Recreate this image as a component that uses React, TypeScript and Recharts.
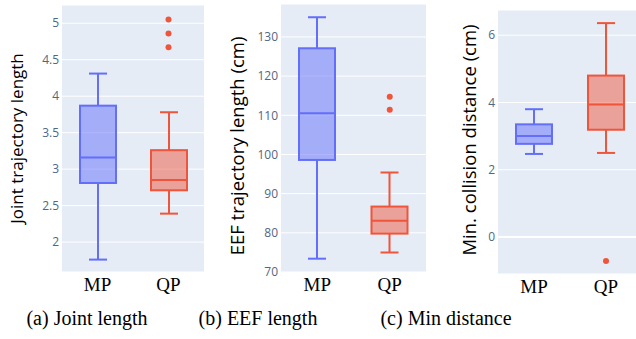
import * as React from "react"
import {
  ComposedChart,
  Bar,
  Scatter,
  XAxis,
  YAxis,
  CartesianGrid,
  ReferenceLine,
} from "recharts"

const CATEGORIES = ["MP", "QP"]

// (a) joint trajectory length
const jointLow = [1.76, 2.39]
const jointQ1 = [2.81, 2.71]
const jointMedian = [3.16, 2.85]
const jointQ3 = [3.87, 3.26]
const jointHigh = [4.31, 3.78]
const jointOutliers = [[], [5.05, 4.86, 4.67]]
const jointTicks = [2, 2.5, 3, 3.5, 4, 4.5, 5]

// (b) EEF trajectory length
const eefLow = [73.4, 75.0]
const eefQ1 = [98.6, 79.8]
const eefMedian = [110.5, 83.1]
const eefQ3 = [127.1, 86.7]
const eefHigh = [135.0, 95.4]
const eefOutliers = [[], [114.7, 111.4]]
const eefTicks = [70, 80, 90, 100, 110, 120, 130]

// (c) min collision distance
const distLow = [2.47, 2.5]
const distQ1 = [2.77, 3.19]
const distMedian = [3.0, 3.94]
const distQ3 = [3.35, 4.8]
const distHigh = [3.8, 6.36]
const distOutliers = [[], [-0.71]]
const distTicks = [0, 2, 4, 6]

const COLORS: Record<string, string> = {
  MP: "#636efa",
  QP: "#ef553b",
}

const PLOT_BG = "#e5ecf6"
const TICK_COLOR = "#506784"

const MAX_OUTLIERS = 3

function buildRows(
  low: number[],
  q1: number[],
  median: number[],
  q3: number[],
  high: number[],
  outliers: number[][]
) {
  return CATEGORIES.map((name, i) => {
    const row: any = {
      name,
      box: [q1[i], q3[i]],
      low: low[i],
      q1: q1[i],
      median: median[i],
      q3: q3[i],
      high: high[i],
    }
    for (let k = 0; k < MAX_OUTLIERS; k++) {
      row[`o${k}`] = outliers[i][k] ?? null
    }
    return row
  })
}

// box + whiskers + median, positions derived from the bar's own scaled range
function BoxShape(props: any) {
  const { x, y, width, height, payload } = props
  if (!payload || !isFinite(y) || !isFinite(height)) return <g />
  const top = Math.min(y, y + height)
  const h = Math.abs(height)
  const span = payload.q3 - payload.q1
  const k = span ? h / span : 0
  const yOf = (v: number) => top + (payload.q3 - v) * k
  const color = COLORS[payload.name]
  const cx = x + width / 2
  const cap = width / 4
  return (
    <g>
      <line x1={cx} x2={cx} y1={yOf(payload.high)} y2={top} stroke={color} strokeWidth={2} />
      <line x1={cx} x2={cx} y1={top + h} y2={yOf(payload.low)} stroke={color} strokeWidth={2} />
      <line x1={cx - cap} x2={cx + cap} y1={yOf(payload.high)} y2={yOf(payload.high)} stroke={color} strokeWidth={2} />
      <line x1={cx - cap} x2={cx + cap} y1={yOf(payload.low)} y2={yOf(payload.low)} stroke={color} strokeWidth={2} />
      <rect x={x} y={top} width={width} height={h} fill={color} fillOpacity={0.5} stroke={color} strokeWidth={2} />
      <line x1={x} x2={x + width} y1={yOf(payload.median)} y2={yOf(payload.median)} stroke={color} strokeWidth={2} />
    </g>
  )
}

function outlierShape(key: string) {
  return (props: any) => {
    const { cx, cy, payload } = props
    if (!payload || payload[key] == null || !isFinite(cy)) return <g />
    return <circle cx={cx} cy={cy} r={3} fill={COLORS[payload.name]} />
  }
}

interface PanelProps {
  rows: any[]
  ticks: number[]
  domain: [number, number]
  title: string
  titleSize: number
  left: number
  width: number
  yAxisWidth: number
  top: number
  xAxisHeight: number
  titleDx: number
  titleDy: number
  zeroLine?: boolean
}

function BoxPanel({
  rows,
  ticks,
  domain,
  title,
  titleSize,
  left,
  width,
  yAxisWidth,
  top,
  xAxisHeight,
  titleDx,
  titleDy,
  zeroLine,
}: PanelProps) {
  return (
    <div style={{ position: "absolute", left, top: 0 }}>
      <ComposedChart
        width={width}
        height={300}
        data={rows}
        margin={{ top, right: 0, bottom: 0, left: 0 }}
      >
        <CartesianGrid vertical={false} fill={PLOT_BG} stroke="#ffffff" strokeWidth={1} fillOpacity={1} />
        <XAxis
          dataKey="name"
          type="category"
          axisLine={false}
          tickLine={false}
          tickSize={0}
          tickMargin={6}
          height={xAxisHeight}
          tick={{ fontSize: 19, fill: "#000", fontFamily: "Liberation Serif" }}
        />
        <YAxis
          type="number"
          domain={domain}
          ticks={ticks}
          width={yAxisWidth}
          axisLine={false}
          tickLine={false}
          tickSize={0}
          tickMargin={3}
          allowDataOverflow
          tick={{ fontSize: 12, fill: TICK_COLOR, fontFamily: "Open Sans" }}
          label={{
            value: title,
            angle: -90,
            position: "center",
            dx: titleDx,
            dy: titleDy,
            style: { fontSize: titleSize, fill: "#000", fontFamily: "Open Sans", textAnchor: "middle" },
          }}
        />
        {zeroLine && <ReferenceLine y={0} stroke="#ffffff" strokeWidth={2} />}
        <Bar dataKey="box" barSize={36} shape={BoxShape} isAnimationActive={false} />
        {Array.from({ length: MAX_OUTLIERS }, (_, k) => (
          <Scatter
            key={k}
            dataKey={`o${k}`}
            shape={outlierShape(`o${k}`)}
            isAnimationActive={false}
          />
        ))}
      </ComposedChart>
    </div>
  )
}

const captionStyle: React.CSSProperties = {
  position: "absolute",
  top: 308,
  width: 200,
  textAlign: "center",
  fontFamily: "Liberation Serif",
  fontSize: 20,
  lineHeight: "20px",
  color: "#000",
}

export default function App() {
  const jointRows = buildRows(jointLow, jointQ1, jointMedian, jointQ3, jointHigh, jointOutliers)
  const eefRows = buildRows(eefLow, eefQ1, eefMedian, eefQ3, eefHigh, eefOutliers)
  const distRows = buildRows(distLow, distQ1, distMedian, distQ3, distHigh, distOutliers)

  return (
    <div
      style={{
        position: "absolute",
        left: 0,
        top: 0,
        width: 636,
        height: 339,
        overflow: "hidden",
        background: "#fff",
      }}
    >
      <BoxPanel
        rows={jointRows}
        ticks={jointTicks}
        domain={[1.59, 5.25]}
        title="Joint trajectory length"
        titleSize={17}
        left={0}
        width={204}
        yAxisWidth={62}
        top={5}
        xAxisHeight={28}
        titleDx={-14}
        titleDy={0}
      />
      <BoxPanel
        rows={eefRows}
        ticks={eefTicks}
        domain={[70, 138.4]}
        title="EEF trajectory length (cm)"
        titleSize={18.5}
        left={212}
        width={214}
        yAxisWidth={69}
        top={4}
        xAxisHeight={28}
        titleDx={-9}
        titleDy={8}
      />
      <BoxPanel
        rows={distRows}
        ticks={distTicks}
        domain={[-1.1, 6.75]}
        title="Min. collision distance (cm)"
        titleSize={18.5}
        left={424}
        width={218}
        yAxisWidth={74}
        top={10}
        xAxisHeight={26}
        titleDx={8}
        titleDy={-2}
        zeroLine
      />
      <div style={{ ...captionStyle, left: 87 - 100 }}>(a) Joint length</div>
      <div style={{ ...captionStyle, left: 258 - 100 }}>(b) EEF length</div>
      <div style={{ ...captionStyle, left: 446 - 100 }}>(c) Min distance</div>
    </div>
  )
}
